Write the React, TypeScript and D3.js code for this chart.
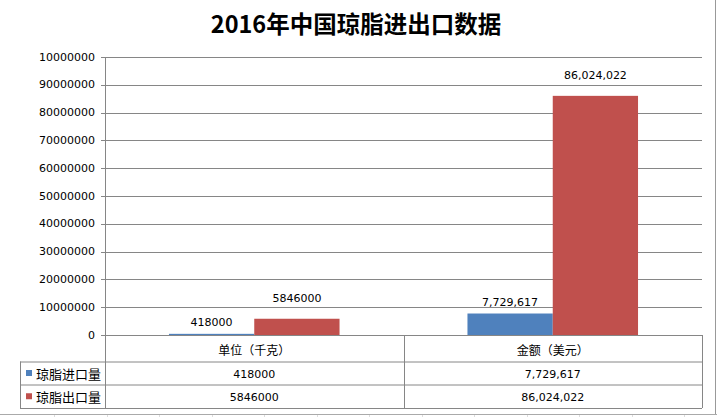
import React from "react";
import * as d3 from "d3";

const title = "2016年中国琼脂进出口数据";
const categories = ["单位（千克）", "金额（美元）"];
const seriesNames = ["琼脂进口量", "琼脂出口量"];
const importValues = [418000, 7729617];
const exportValues = [5846000, 86024022];
const importLabels = ["418000", "7,729,617"];
const exportLabels = ["5846000", "86,024,022"];
const yTicks = [0, 10000000, 20000000, 30000000, 40000000, 50000000, 60000000, 70000000, 80000000, 90000000, 100000000];
const yTickLabels = ["0", "10000000", "20000000", "30000000", "40000000", "50000000", "60000000", "70000000", "80000000", "90000000", "10000000"];

const colors = ["#4F81BD", "#C0504D"];
const W = 717, H = 417;
const plotLeft = 105, plotRight = 702, plotTop = 57, plotBottom = 335;
const tableLeft = 20;
const headerBottom = 361.5, row1Bottom = 384.5, row2Bottom = 408;
const gridColor = "#868686";
const numFont = "'DejaVu Sans', Verdana, sans-serif";
const cjkFont = "'Noto Sans CJK SC', sans-serif";

export default function App() {
  const y = d3.scaleLinear().domain([0, 100000000]).range([plotBottom, plotTop]);
  const x0 = d3.scaleBand<string>().domain(categories).range([plotLeft, plotRight]).paddingInner(0).paddingOuter(0);
  const x1 = d3.scaleBand<string>().domain(seriesNames).range([0, x0.bandwidth()]).paddingInner(0).paddingOuter(0.75);
  const series = [importValues, exportValues];
  const labels = [importLabels, exportLabels];
  const labelOffsets = [11, 20];
  const rowTops = [headerBottom, row1Bottom];
  const rowBottoms = [row1Bottom, row2Bottom];
  const bottomTicks = d3.range(54, W, 52.5);

  return (
    <svg width={W} height={H} style={{ position: "absolute", left: 0, top: 0, background: "#fff" }}>
      <rect x={0} y={0} width={W} height={H} fill="#fff" />
      <text x={356} y={23} textAnchor="middle" dominantBaseline="central" fontFamily={cjkFont} fontWeight="bold" fontSize={23.5} fill="#000">{title}</text>

      {/* gridlines */}
      {yTicks.map((t) => (
        <line key={"g" + t} x1={plotLeft - 4} x2={plotRight} y1={Math.round(y(t)) + 0.5} y2={Math.round(y(t)) + 0.5} stroke={gridColor} strokeWidth={1} />
      ))}
      {yTicks.map((t, i) => (
        <text key={"t" + t} x={95} y={y(t)} textAnchor="end" dominantBaseline="central" fontFamily={numFont} fontSize={11} fill="#000">{yTickLabels[i]}</text>
      ))}
      <line x1={plotLeft + 0.5} x2={plotLeft + 0.5} y1={plotTop} y2={row2Bottom} stroke={gridColor} />

      {/* bars */}
      {series.map((vals, si) =>
        categories.map((c, ci) => {
          const bx = (x0(c) as number) + (x1(seriesNames[si]) as number);
          const top = y(vals[ci]);
          return (
            <g key={`b${si}-${ci}`}>
              <rect x={bx} y={top} width={x1.bandwidth()} height={plotBottom - top} fill={colors[si]} />
              <text x={bx + x1.bandwidth() / 2} y={top - labelOffsets[si]} textAnchor="middle" dominantBaseline="central" fontFamily={numFont} fontSize={11} fill="#000">{labels[si][ci]}</text>
            </g>
          );
        })
      )}

      {/* data table */}
      <line x1={plotLeft} x2={plotRight} y1={headerBottom + 0.5} y2={headerBottom + 0.5} stroke={gridColor} />
      <line x1={tableLeft} x2={plotRight} y1={row1Bottom + 0.5} y2={row1Bottom + 0.5} stroke={gridColor} />
      <line x1={tableLeft} x2={plotRight} y1={row2Bottom + 0.5} y2={row2Bottom + 0.5} stroke={gridColor} />
      <line x1={tableLeft} x2={plotLeft} y1={headerBottom + 0.5} y2={headerBottom + 0.5} stroke={gridColor} />
      <line x1={tableLeft + 0.5} x2={tableLeft + 0.5} y1={headerBottom} y2={row2Bottom} stroke={gridColor} />
      {categories.map((c) => (
        <line key={"v" + c} x1={Math.round((x0(c) as number) + x0.bandwidth()) + 0.5} x2={Math.round((x0(c) as number) + x0.bandwidth()) + 0.5} y1={plotBottom} y2={row2Bottom} stroke={gridColor} />
      ))}
      {categories.map((c) => (
        <text key={"c" + c} x={(x0(c) as number) + x0.bandwidth() / 2} y={(plotBottom + headerBottom) / 2 + 1} textAnchor="middle" dominantBaseline="central" fontFamily={cjkFont} fontSize={12} fill="#000">{c}</text>
      ))}
      {seriesNames.map((s, si) => (
        <g key={"r" + s}>
          <rect x={26} y={(rowTops[si] + rowBottoms[si]) / 2 - 3} width={6} height={6} fill={colors[si]} />
          <text x={36} y={(rowTops[si] + rowBottoms[si]) / 2} dominantBaseline="central" fontFamily={cjkFont} fontSize={13} fill="#000">{s}</text>
          {categories.map((c, ci) => (
            <text key={"cv" + ci} x={(x0(c) as number) + x0.bandwidth() / 2} y={(rowTops[si] + rowBottoms[si]) / 2 + 1} textAnchor="middle" dominantBaseline="central" fontFamily={numFont} fontSize={11} fill="#000">{labels[si][ci]}</text>
          ))}
        </g>
      ))}

      {/* outer chart border bits */}
      <line x1={W - 1.5} x2={W - 1.5} y1={0} y2={H - 3} stroke="#999" />
      <line x1={0} x2={W} y1={H - 2.5} y2={H - 2.5} stroke="#aaa" />
      {bottomTicks.map((bx) => (
        <line key={"bt" + bx} x1={Math.round(bx) + 0.5} x2={Math.round(bx) + 0.5} y1={H - 2} y2={H} stroke="#ddd" />
      ))}
    </svg>
  );
}
